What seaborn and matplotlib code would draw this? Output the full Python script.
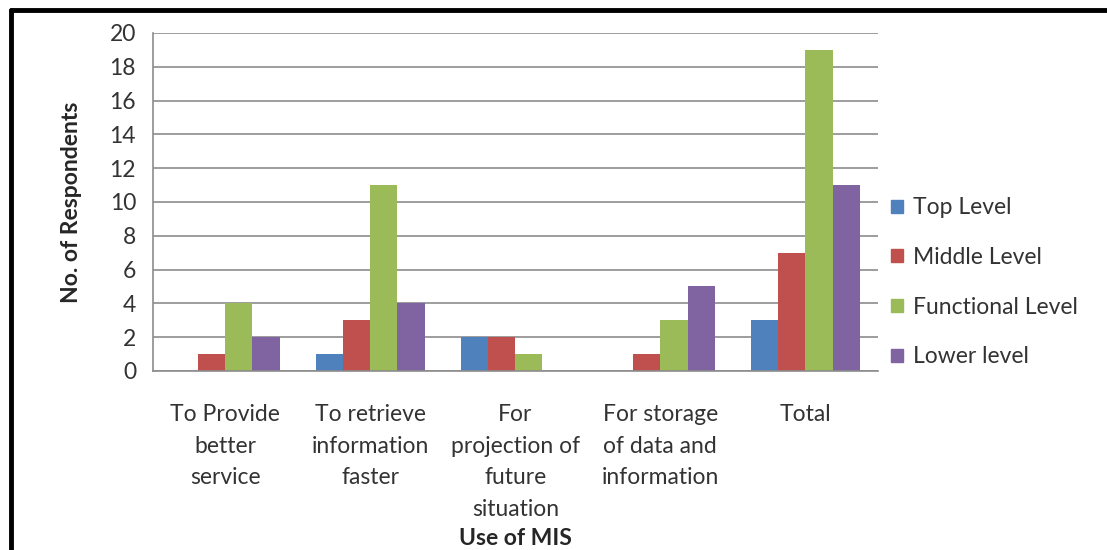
import pandas as pd
import numpy as np
import seaborn as sns
import matplotlib.pyplot as plt
from matplotlib.lines import Line2D

categories = ['To Provide\nbetter\nservice', 'To retrieve\ninformation\nfaster',
              'For\nprojection of\nfuture\nsituation', 'For storage\nof data and\ninformation',
              'Total']
levels = ['Top Level', 'Middle Level', 'Functional Level', 'Lower level']
top_level = [0, 1, 2, 0, 3]
middle_level = [1, 3, 2, 1, 7]
functional_level = [4, 11, 1, 3, 19]
lower_level = [2, 4, 0, 5, 11]
colors = ['#4F81BD', '#C0504D', '#9BBB59', '#8064A2']

rows = []
for lvl, vals in zip(levels, [top_level, middle_level, functional_level, lower_level]):
    for cat, v in zip(categories, vals):
        rows.append({'use': cat, 'level': lvl, 'count': v})
df = pd.DataFrame(rows)

sns.set_style('white')
plt.rcParams['font.family'] = ['Lato', 'DejaVu Sans']

fig = plt.figure(figsize=(11.07, 5.5), dpi=100)
ax = fig.add_axes([0.138, 0.3255, 0.655, 0.6145])

sns.barplot(data=df, x='use', y='count', hue='level', order=categories,
            hue_order=levels, palette=colors, width=0.75, saturation=1,
            ax=ax, edgecolor='none', linewidth=0)

ax.set_ylim(0, 20)
ax.set_xlim(-0.5, len(categories) - 0.5)
ax.set_yticks(np.arange(0, 21, 2))
ax.yaxis.grid(True, color='#8c8c8c', linewidth=1.2)
ax.set_axisbelow(True)
for s in ['top', 'right']:
    ax.spines[s].set_visible(False)
ax.spines['left'].set_color('#8c8c8c')
ax.spines['bottom'].set_color('#8c8c8c')
ax.spines['left'].set_linewidth(1.2)
ax.spines['bottom'].set_linewidth(1.2)

ax.tick_params(axis='y', length=7, color='#8c8c8c', labelsize=16.5, pad=5, labelcolor='#333333')
ax.set_xticks(range(len(categories)))
ax.set_xticklabels(categories, fontsize=16.5, color='#333333', linespacing=1.62, va='top')
ax.tick_params(axis='x', length=0, pad=24)
ax.set_xticks(np.arange(-0.5, len(categories), 1), minor=True)
ax.tick_params(axis='x', which='minor', length=7, color='#8c8c8c', width=1.2)

ax.set_ylabel('No. of Respondents', fontsize=16.5, fontweight='bold', labelpad=20)
ax.set_xlabel('Use of MIS', fontsize=16.5, fontweight='bold', va='center')
ax.xaxis.set_label_coords(0.5, -0.495)

handles = [plt.Rectangle((0, 0), 1, 1, color=c) for c in colors]
ax.legend(handles, levels, loc='center left', bbox_to_anchor=(0.99, 0.262),
          frameon=False, fontsize=16.5, handlelength=0.5, handleheight=0.5,
          handletextpad=0.45, labelspacing=1.25, labelcolor='#333333')

fig.add_artist(Line2D([0.0095, 1.0], [0.982, 0.982], color='black', linewidth=3.5,
                      transform=fig.transFigure))
fig.add_artist(Line2D([0.0095, 0.0095], [0.0, 0.982], color='black', linewidth=3.5,
                      transform=fig.transFigure))

plt.savefig('out.png', dpi=100)
